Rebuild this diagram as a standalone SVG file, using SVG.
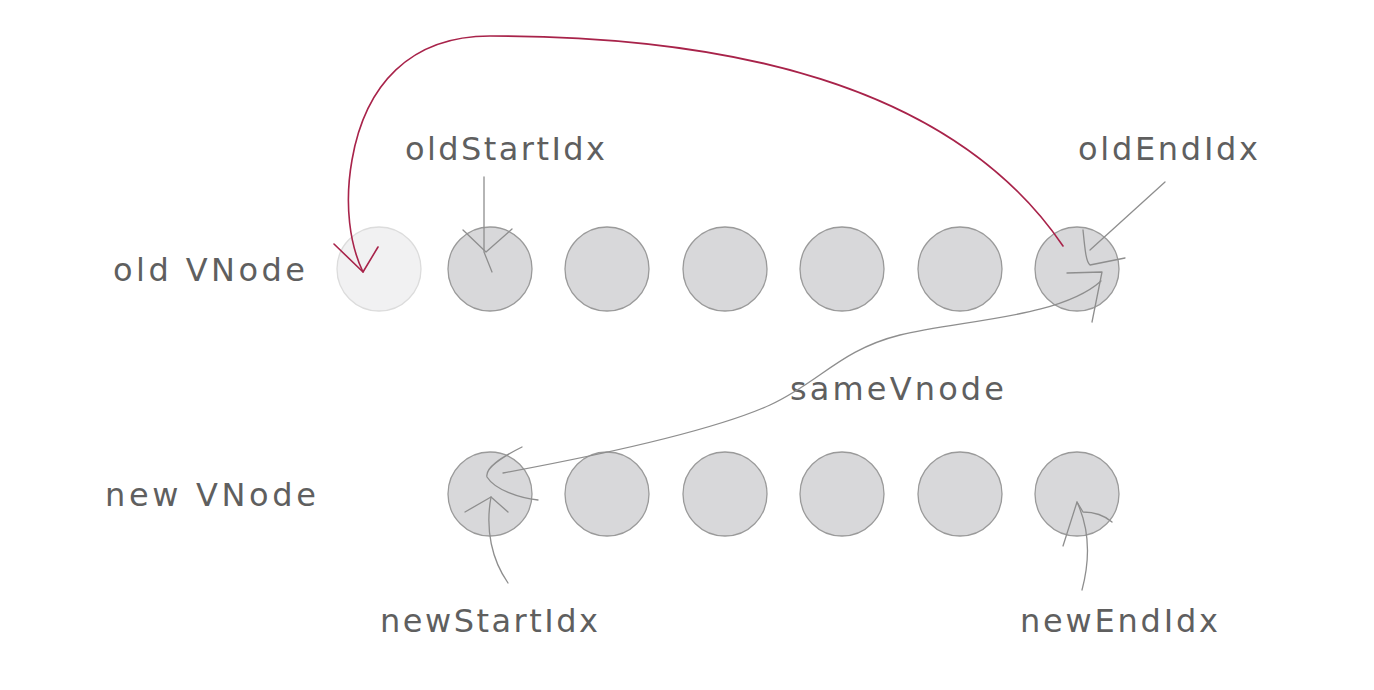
<svg xmlns="http://www.w3.org/2000/svg" width="1374" height="690" viewBox="0 0 1374 690">
<style>
.lbl{font-family:"DejaVu Sans","Liberation Sans",sans-serif;font-size:32px;fill:#5f5f5f}
.node{fill:#d8d8da;stroke:#9a9a9a;stroke-width:1.3}
.ghost{fill:#f1f1f2;stroke:#dcdcdc;stroke-width:1.3}
.ln{fill:none;stroke:#8e8e8e;stroke-width:1.3;stroke-linecap:round;stroke-linejoin:round}
.red{fill:none;stroke:#a8234a;stroke-width:1.6;stroke-linecap:round;stroke-linejoin:round}
</style>
<rect width="1374" height="690" fill="#ffffff"/>
<g id="labels">
<text class="lbl" x="113" y="281" textLength="192" lengthAdjust="spacing">old VNode</text>
<text class="lbl" x="105" y="506" textLength="211" lengthAdjust="spacing">new VNode</text>
</g>
<g id="old-row">
<g id="old-0"><circle class="ghost" cx="379" cy="269" r="42"/></g>
<g id="old-1"><circle class="node" cx="490" cy="269" r="42"/></g>
<g id="old-2"><circle class="node" cx="607" cy="269" r="42"/></g>
<g id="old-3"><circle class="node" cx="725" cy="269" r="42"/></g>
<g id="old-4"><circle class="node" cx="842" cy="269" r="42"/></g>
<g id="old-5"><circle class="node" cx="960" cy="269" r="42"/></g>
<g id="old-6"><circle class="node" cx="1077" cy="269" r="42"/></g>
</g>
<g id="new-row">
<g id="new-0"><circle class="node" cx="490" cy="494" r="42"/></g>
<g id="new-1"><circle class="node" cx="607" cy="494" r="42"/></g>
<g id="new-2"><circle class="node" cx="725" cy="494" r="42"/></g>
<g id="new-3"><circle class="node" cx="842" cy="494" r="42"/></g>
<g id="new-4"><circle class="node" cx="960" cy="494" r="42"/></g>
<g id="new-5"><circle class="node" cx="1077" cy="494" r="42"/></g>
</g>
<g id="pointers">
<g id="oldStartIdx"><text class="lbl" x="405" y="160" textLength="200" lengthAdjust="spacing">oldStartIdx</text></g>
<g id="oldEndIdx"><text class="lbl" x="1078" y="160" textLength="180" lengthAdjust="spacing">oldEndIdx</text></g>
<g id="newStartIdx"><text class="lbl" x="380" y="632" textLength="218" lengthAdjust="spacing">newStartIdx</text></g>
<g id="newEndIdx"><text class="lbl" x="1020" y="632" textLength="198" lengthAdjust="spacing">newEndIdx</text></g>
<g id="sameVnode-label"><text class="lbl" x="790" y="400" textLength="214" lengthAdjust="spacing">sameVnode</text></g>
</g>
<g id="connectors">
<path class="red" d="M1063,246 C 950,80 720,36 490,36 C 410,36 365,85 352,160 C 344,205 350,245 363,272"/>
<path class="red" d="M334,244 L363,272 L378,247"/>
<path class="ln" d="M484,177 L484,252 L492,272"/>
<path class="ln" d="M463,230 L486,252 L512,229"/>
<path class="ln" d="M1165,182 L1090,250"/>
<path class="ln" d="M1083,230 C 1085,250 1086,262 1090,265 L1125,258"/>
<path class="ln" d="M503,473 C 600,455 710,432 770,405 C 820,382 840,350 900,335 C 960,320 1060,318 1101,281"/>
<path class="ln" d="M1067,273 L1102,272 L1092,322"/>
<path class="ln" d="M522,447 C 500,458 485,468 487,477 C 495,490 520,498 538,500"/>
<path class="ln" d="M508,583 C 492,560 485,530 491,497"/>
<path class="ln" d="M465,512 L491,497 L508,512"/>
<path class="ln" d="M1082,590 C 1090,560 1090,530 1077,502"/>
<path class="ln" d="M1063,546 L1077,502 L1083,512 C 1095,512 1105,516 1112,522"/>
</g>
</svg>
